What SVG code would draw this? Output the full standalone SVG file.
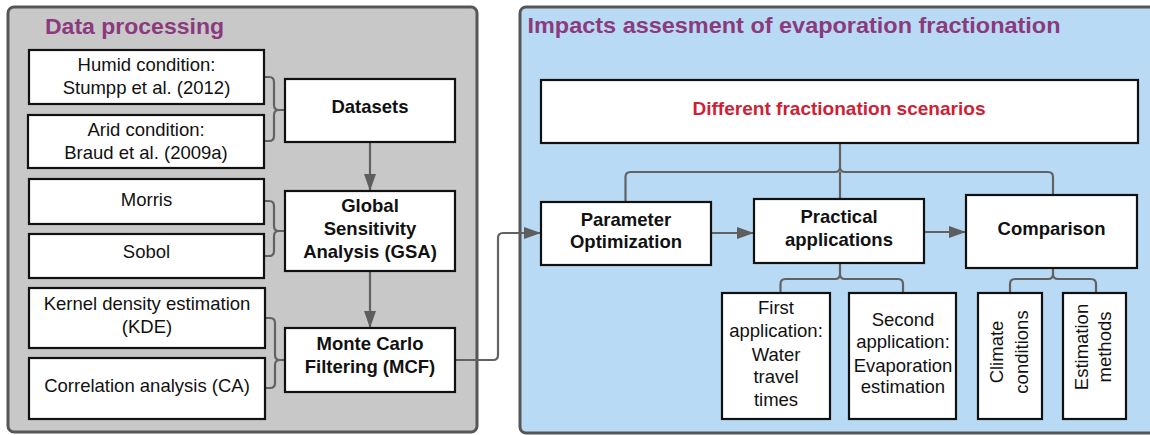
<svg xmlns="http://www.w3.org/2000/svg" width="1150" height="435" viewBox="0 0 1150 435">
<defs>
<style>
.panel{stroke:#565656;stroke-width:3}
.box{fill:#fff;stroke:#111;stroke-width:2.2}
.t{font-family:"Liberation Sans",Arial,sans-serif;font-size:18.5px;fill:#111;text-anchor:middle}
.b{font-weight:bold}
.title{font-family:"Liberation Sans",Arial,sans-serif;font-weight:bold;fill:#8b3a7e}
.con{fill:none;stroke:#626262;stroke-width:2.2}
</style>
<marker id="arr" markerUnits="userSpaceOnUse" markerWidth="17" markerHeight="12" refX="17" refY="6" orient="auto">
<path d="M0,0 L17,6 L0,12 z" fill="#5e5e5e"/>
</marker>
</defs>
<rect width="1150" height="435" fill="#fff"/>
<g id="panel-data-processing">
<rect class="panel" x="8" y="7" width="469" height="425" rx="6" fill="#c8c8c8"/>
<text class="title" x="45" y="34" font-size="22" textLength="179" lengthAdjust="spacingAndGlyphs">Data processing</text>
</g>
<g id="panel-impacts">
<rect class="panel" x="520" y="7" width="650" height="426" rx="6" fill="#b8daf4"/>
<text class="title" x="527.5" y="33" font-size="21.5" textLength="533" lengthAdjust="spacingAndGlyphs">Impacts assesment of evaporation fractionation</text>
</g>
<g id="connectors">
<path class="con" d="M264,77 H269 Q274,77 274,82 V105 Q274,110 279,110 H285 M279,110 Q274,110 274,115 V136 Q274,141 269,141 H264"/>
<path class="con" d="M264,201 H269 Q274,201 274,206 V226 Q274,231 279,231 H285 M279,231 Q274,231 274,236 V251 Q274,256 269,256 H264"/>
<path class="con" d="M265,318 H270 Q275,318 275,323 V355 Q275,360 280,360 H285 M280,360 Q275,360 275,365 V383 Q275,388 270,388 H265"/>
<path class="con" d="M370,142 V191" marker-end="url(#arr)"/>
<path class="con" d="M370,271 V328" marker-end="url(#arr)"/>
<path class="con" d="M455,360 H493 Q498,360 498,355 V238 Q498,233 503,233 H541" marker-end="url(#arr)"/>
<path class="con" d="M840,143 V167 Q840,172 835,172 H630.5 Q625.5,172 625.5,177 V202 M840,167 Q840,172 845,172 H1048 Q1053,172 1053,177 V195 M840,172 V199"/>
<path class="con" d="M711,233 H754" marker-end="url(#arr)"/>
<path class="con" d="M924,232 H966" marker-end="url(#arr)"/>
<path class="con" d="M840,263 V274 Q840,279 835,279 H785.5 Q780.5,279 780.5,284 V293 M840,274 Q840,279 845,279 H898 Q903,279 903,284 V293"/>
<path class="con" d="M1053,268 V274 Q1053,279 1048,279 H1015 Q1010,279 1010,284 V293 M1053,274 Q1053,279 1058,279 H1091 Q1096,279 1096,284 V293"/>
</g>
<g id="humid">
<rect class="box" x="29" y="50" width="235" height="54"/>
<text class="t" x="146.5" y="71">Humid condition:</text>
<text class="t" x="146.5" y="94">Stumpp et al. (2012)</text>
</g>
<g id="arid">
<rect class="box" x="28" y="115" width="236" height="53"/>
<text class="t" x="146" y="136">Arid condition:</text>
<text class="t" x="146" y="159">Braud et al. (2009a)</text>
</g>
<g id="datasets">
<rect class="box" x="285" y="79" width="170" height="63"/>
<text class="t b" x="370" y="113">Datasets</text>
</g>
<g id="morris">
<rect class="box" x="29" y="179" width="235" height="45"/>
<text class="t" x="146.5" y="206">Morris</text>
</g>
<g id="sobol">
<rect class="box" x="29" y="234" width="235" height="44"/>
<text class="t" x="146.5" y="258">Sobol</text>
</g>
<g id="gsa">
<rect class="box" x="285" y="191" width="170" height="80"/>
<text class="t b" x="370" y="212">Global</text>
<text class="t b" x="370" y="235">Sensitivity</text>
<text class="t b" x="370" y="258">Analysis (GSA)</text>
</g>
<g id="kde">
<rect class="box" x="29" y="288" width="236" height="60"/>
<text class="t" x="147" y="310">Kernel density estimation</text>
<text class="t" x="147" y="333">(KDE)</text>
</g>
<g id="ca">
<rect class="box" x="29" y="358" width="236" height="61"/>
<text class="t" x="147" y="392">Correlation analysis (CA)</text>
</g>
<g id="mcf">
<rect class="box" x="285" y="328" width="170" height="64"/>
<text class="t b" x="370" y="350">Monte Carlo</text>
<text class="t b" x="370" y="373">Filtering (MCF)</text>
</g>
<g id="scenarios">
<rect class="box" x="541" y="80" width="597" height="63"/>
<text class="t b" x="839" y="115" style="fill:#cf1f37" textLength="293" lengthAdjust="spacingAndGlyphs">Different fractionation scenarios</text>
</g>
<g id="param-opt">
<rect class="box" x="541" y="202" width="170" height="63"/>
<text class="t b" x="626" y="226">Parameter</text>
<text class="t b" x="626" y="248">Optimization</text>
</g>
<g id="practical">
<rect class="box" x="754" y="199" width="170" height="64"/>
<text class="t b" x="839" y="223">Practical</text>
<text class="t b" x="839" y="246">applications</text>
</g>
<g id="comparison">
<rect class="box" x="966" y="195" width="171" height="73"/>
<text class="t b" x="1051.5" y="235">Comparison</text>
</g>
<g id="first-app">
<rect class="box" x="722" y="293" width="108" height="126"/>
<text class="t" x="776" y="314">First</text>
<text class="t" x="776" y="337">application:</text>
<text class="t" x="776" y="361">Water</text>
<text class="t" x="776" y="383">travel</text>
<text class="t" x="776" y="406">times</text>
</g>
<g id="second-app">
<rect class="box" x="849" y="293" width="107" height="126"/>
<text class="t" x="903" y="326">Second</text>
<text class="t" x="903" y="348">application:</text>
<text class="t" x="903" y="372">Evaporation</text>
<text class="t" x="903" y="393">estimation</text>
</g>
<g id="climate">
<rect class="box" x="978" y="293" width="64" height="126"/>
<text class="t" transform="translate(1003,352) rotate(-90)">Climate</text>
<text class="t" transform="translate(1028,352) rotate(-90)">conditions</text>
</g>
<g id="estimation">
<rect class="box" x="1063" y="293" width="63" height="126"/>
<text class="t" transform="translate(1088,347) rotate(-90)">Estimation</text>
<text class="t" transform="translate(1111,347) rotate(-90)">methods</text>
</g>
</svg>
